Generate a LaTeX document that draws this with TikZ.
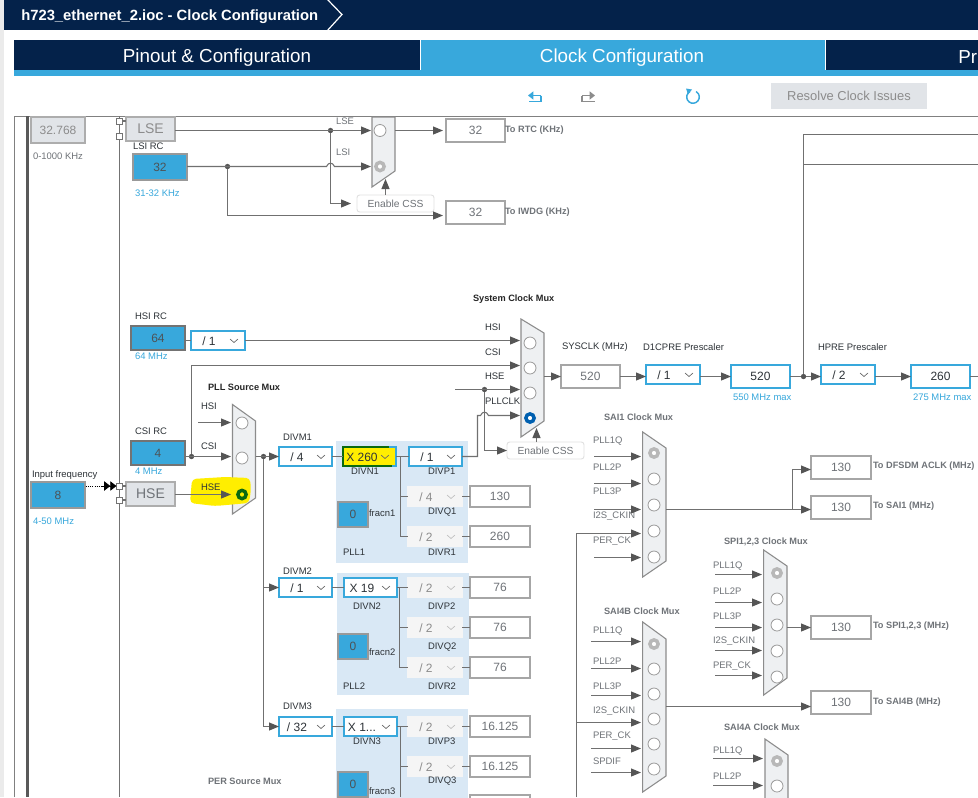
\documentclass[tikz,border=0pt]{standalone}
\usepackage{fontspec}
\setmainfont{Liberation Sans}
\usetikzlibrary{arrows.meta,calc}
\definecolor{navy}{HTML}{04224A}
\definecolor{cubeblue}{HTML}{38A8DC}
\definecolor{conngrey}{HTML}{707070}
\definecolor{headgrey}{HTML}{555555}
\definecolor{boxgrey}{HTML}{E1E4E8}
\definecolor{panel}{HTML}{D9E8F5}
\definecolor{muxfill}{HTML}{EEF0F2}
\definecolor{txtdark}{HTML}{2E3338}
\definecolor{txtgrey}{HTML}{6F7378}
\definecolor{hl}{HTML}{FFEE00}
\definecolor{hlgreen}{HTML}{0B6A10}
\definecolor{selblue}{HTML}{0060B0}
\tikzset{
  conn/.style={draw=conngrey,line width=0.8pt},
  arw/.style={conn,-{Triangle[length=7.5pt,width=6pt,fill=headgrey,color=headgrey]}},
  bxbase/.style={rectangle,inner sep=0pt,outer sep=0pt},
  outb/.style={bxbase,fill=white,draw=black!35,line width=0.8pt,text=txtgrey,font=\fontsize{9}{9}\selectfont},
  actb/.style={bxbase,fill=white,draw=cubeblue,line width=1.6pt,text=txtdark,font=\fontsize{9}{9}\selectfont},
  inb/.style={bxbase,fill=cubeblue,draw=black!40,line width=0.8pt,text=txtdark!85,font=\fontsize{9}{9}\selectfont},
  inbd/.style={inb,draw=black!55},
  grb/.style={bxbase,fill=boxgrey,draw=black!32,line width=0.8pt,text=txtgrey,font=\fontsize{9}{9}\selectfont},
  ddon/.style={bxbase,fill=white,draw=cubeblue,line width=1.7pt},
  ddoff/.style={bxbase,fill=black!4,draw=black!4,line width=0.8pt},
  csse/.style={bxbase,rounded corners=2pt,fill=white,draw=black!12,line width=0.7pt,text=txtgrey,font=\fontsize{7.7}{8}\selectfont},
  panelst/.style={bxbase,fill=panel},
  lbl/.style={anchor=west,inner sep=0pt,outer sep=0pt,text=txtdark,font=\fontsize{7.1}{8}\selectfont},
  lgrey/.style={lbl,text=txtgrey},
  lblue/.style={lbl,text=cubeblue},
  lbold/.style={lbl,font=\fontsize{6.9}{8}\bfseries\selectfont,text=black!85},
  lboldg/.style={lbold,text=txtgrey},
  ltarget/.style={lbold,text=txtgrey},
  muxst/.style={fill=muxfill,draw=black!45,line width=0.8pt},
  circ/.style={circle,inner sep=0pt,outer sep=0pt,minimum size=9pt,fill=white,draw=black!40,line width=0.6pt},
  csel/.style={circle,inner sep=0pt,outer sep=0pt,minimum size=6.2pt,fill=white,draw=black!28,line width=2.6pt},
  cblue/.style={csel,draw=selblue},
  cgreen/.style={csel,draw=hlgreen,fill=hl},
  jdot/.style={circle,inner sep=0pt,outer sep=0pt,minimum size=4pt,fill=headgrey},
  sq/.style={rectangle,inner sep=0pt,outer sep=0pt,minimum size=4.6pt,fill=white,draw=black!55,line width=0.6pt},
  chev/.style={draw=black!60,line width=0.5pt},
  chevoff/.style={draw=black!25,line width=0.5pt},
  ddtxt/.style={inner sep=0pt,outer sep=0pt,text=txtdark,font=\fontsize{9}{9}\selectfont},
  ddtxtoff/.style={ddtxt,text=black!45},
}
\newcommand{\bx}[7][]{\node[#2,minimum width={(#5-#3)*0.75pt},minimum height={(#6-#4)*0.75pt},#1] (#7) at ({(#3+#5)/2},{(#4+#6)/2}) {};}
\newcommand{\tbx}[7]{\node[#1,minimum width={(#4-#2)*0.75pt},minimum height={(#5-#3)*0.75pt}] (#6) at ({(#2+#4)/2},{(#3+#5)/2}) {#7};}
\newcount\lbcount
\newcommand{\lb}[4]{\global\advance\lbcount by 1 \node[#1] (lb\the\lbcount) at (#2,#3) {#4};}
\newcommand{\ddn}[7]{%
  \bx{ddon}{#2}{#3}{#4}{#5}{#1}
  \node[ddtxt] (#1t) at ($(#1.west)+(18,0.7)$) {#6};
  \draw[chev] ($(#1.east)+(-15,-1.5)$) -- ++(4,3.5) -- ++(4,-3.5);}
\newcommand{\ddf}[6]{%
  \bx{ddoff}{#2}{#3}{#4}{#5}{#1}
  \node[ddtxtoff] (#1t) at ($(#1.west)+(18,0.7)$) {#6};
  \draw[chevoff] ($(#1.east)+(-15,-1.5)$) -- ++(4,3.5) -- ++(4,-3.5);}
\newcommand{\inpt}[4]{\coordinate (#1s) at (#2,#4); \coordinate (#1e) at (#3,#4); \draw[arw] (#1s) -- (#1e);}
\begin{document}
\begin{tikzpicture}[x=0.75pt,y=-0.75pt]
\useasboundingbox (0,0) rectangle (978,797);
\clip (0,0) rectangle (978,797);
\fill[white] (0,0) rectangle (978,797);
% chrome
\fill[black!8] (0,0) rectangle (4,797);
\fill[navy] (4,0) rectangle (978,30);
\draw[white,line width=0.9pt] (327,-1) -- (342,14.5) -- (327,31);
\node[anchor=west,inner sep=0pt,text=white,font=\fontsize{11.1}{12}\bfseries\selectfont] (title) at (21,16.5) {h723\_ethernet\_2.ioc - Clock Configuration};
\fill[navy] (14,40) rectangle (420,70);
\fill[cubeblue] (14,70) rectangle (978,76);
\fill[cubeblue] (421,40) rectangle (825,76);
\fill[navy] (826,40) rectangle (978,70);
\node[text=white,inner sep=0pt,font=\fontsize{14.1}{14}\selectfont] (tab1) at (217,57.5) {Pinout \& Configuration};
\node[text=white,inner sep=0pt,font=\fontsize{14.1}{14}\selectfont] (tab2) at (622,57.5) {Clock Configuration};
\node[anchor=west,text=white,inner sep=0pt,font=\fontsize{14.1}{14}\selectfont] (tab3) at (958,57.5) {Pr};
% toolbar
\draw[cubeblue,line width=1pt,-{Triangle[length=4pt,width=6pt]}] (541,95.5) -- (528,95.5);
\draw[cubeblue,line width=1pt] (541,95.5) -- (541,101.5) -- (529,101.5);
\draw[black!45,line width=1pt,-{Triangle[length=4pt,width=6pt]}] (582,95.5) -- (595,95.5);
\draw[black!45,line width=1pt] (582,95.5) -- (582,101.5) -- (595,101.5);
\draw[cubeblue,line width=1.1pt] (689.85,91.5) arc[start angle=-120,end angle=-420,radius=6.3];
\fill[cubeblue] (686,88.5) -- (692,89.5) -- (688,94.5) -- cycle;
\tbx{bxbase,fill=boxgrey,text=black!45,font=\fontsize{9.7}{9}\selectfont}{771}{83}{927}{109}{resolve}{Resolve Clock Issues}
% frame
\draw[black!50,line width=0.7pt] (14.5,797) -- (14.5,116.5) -- (978,116.5);
\draw[black!65,line width=2pt] (27.5,116) -- (27.5,797);
\draw[black!55,line width=0.7pt] (119.5,116) -- (119.5,797);
% PLL panels
\bx{panelst}{336}{441}{468}{563}{pll1p}
\bx{panelst}{337}{573}{469}{695}{pll2p}
\bx{panelst}{336}{709}{468}{800}{pll3p}
% left boxes
\tbx{grb,text=black!45}{31}{117}{85}{143}{xlse}{32.768}
\lb{lgrey}{33}{156}{0-1000 KHz}
\node[sq] (s1) at (119.5,121) {}; \node[sq] (s2) at (119.5,136) {};
\tbx{grb,text=black!45,font=\fontsize{10.5}{10}\selectfont}{126}{117}{175}{141}{lse}{LSE}
\draw[conn] (s1.east) -- (s1.east -| lse.west);
\lb{lbl}{133}{146}{LSI RC}
\tbx{inb}{133}{154}{187}{180}{lsi}{32}
\lb{lblue}{135}{193}{31-32 KHz}
\lb{lbl}{135}{316}{HSI RC}
\tbx{inbd}{131}{326}{185}{350}{hsi}{64}
\lb{lblue}{135}{356}{64 MHz}
\lb{lbl}{135}{431}{CSI RC}
\tbx{inbd}{131}{441}{185}{465}{csi}{4}
\lb{lblue}{135}{471}{4 MHz}
\lb{lbl}{32}{475}{Input frequency}
\tbx{inb}{31}{482}{85}{508}{hsein}{8}
\lb{lblue}{33}{521}{4-50 MHz}
\node[sq] (s3) at (119.5,486) {}; \node[sq] (s4) at (119.5,500) {};
\tbx{grb,font=\fontsize{10.5}{10}\selectfont}{126}{482}{175}{506}{hse}{HSE}
\draw[conn] (s3.east) -- (s3.east -| hse.west);
\draw[conn] (s4.east) -- (s4.east -| hse.west);
\coordinate (xa) at (86,486);
\coordinate (xb) at (102,486);
\draw[black,line width=0.6pt,densely dotted] (xa) -- (xb);
\draw[black,line width=0.6pt,-{Triangle[length=4.6pt,width=7pt]Triangle[length=4.6pt,width=7pt]}] (xb) -- (s3.west);
% LSE / LSI mux
\draw[muxst] (372,117) -- (395,117) -- (395,171) -- (372,187) -- cycle;
\node[circ] (m0c1) at (380,130.5) {};
\node[csel] (m0c2) at (380,166.5) {};
\coordinate (m0i1) at (371,130.5); \coordinate (m0i2) at (371,166.5); \coordinate (m0o) at (395,130.5);
\node[jdot] (jlse) at (330.5,130.5) {};
\node[jdot] (jlsi) at (227.5,166.5) {};
\draw[arw] (lse.east |- jlse) -- (m0i1);
\draw[arw] (lsi.east |- jlsi) -- (326.5,166.5) .. controls (328.5,162) and (332.5,162) .. (334.5,166.5) -- (m0i2);
\lb{lgrey}{336}{121}{LSE}
\lb{lgrey}{336}{152}{LSI}
\tbx{csse}{357}{195}{434}{212}{css0}{Enable CSS}
\coordinate (css0a) at (351,203.5);
\draw[arw] (jlse) |- (css0a);
\draw[arw] (css0.north -| 385.5,0) -- (385.5,179);
\tbx{outb}{446}{119}{505}{142}{rtc}{32}
\tbx{outb}{446}{201}{505}{224}{iwdg}{32}
\draw[arw] (m0o) -- (443,130.5);
\draw[arw] (jlsi) |- (443,215.5);
\lb{ltarget}{505}{130}{To RTC (KHz)}
\lb{ltarget}{505}{212}{To IWDG (KHz)}
% HSI / CSI / HSE to muxes
\ddn{dhsi}{191}{331}{245}{350}{/ 1}{}
\draw[conn] (hsi.east |- dhsi) -- (dhsi.west);
\coordinate (si1) at (520,340.5); \coordinate (si2) at (520,365.5); \coordinate (si3) at (520,389.5); \coordinate (si4) at (520,415.5);
\draw[arw] (dhsi.east) -- (si1);
\node[jdot] (jcsi) at (191.5,456.5) {};
\draw[arw] (jcsi) |- (si2);
\draw[muxst] (232.5,404.5) -- (255.5,421) -- (255.5,498) -- (232.5,514) -- cycle;
\draw[arw] (csi.east |- jcsi) -- (231,456.5);
\coordinate (hs0) at (198,422.5); \coordinate (hs1) at (231,422.5);
\draw[arw] (hs0) -- (hs1);
\fill[hl,rounded corners=3pt] (192,479) -- (225,477) -- (250,478) -- (251,490) -- (249,503) -- (215,506) -- (190,503) -- cycle;
\draw[arw] (hse.east |- 0,494.5) -- (231,494.5);
\node[circ] (pc1) at (242,423) {};
\node[circ] (pc2) at (242,458) {};
\node[cgreen] (pc3) at (242,494.5) {};
\lb{lbl}{201}{406}{HSI}
\lb{lbl}{201}{446}{CSI}
\lb{lbl}{201}{487}{HSE}
\lb{lbold}{208}{387}{PLL Source Mux}
% DIVM
\lb{lbl}{283}{437}{DIVM1}
\lb{lbl}{283}{571}{DIVM2}
\lb{lbl}{283}{706}{DIVM3}
\ddn{dm1}{279}{447}{332}{466}{/ 4}{}
\ddn{dm2}{279}{578}{332}{597}{/ 1}{}
\ddn{dm3}{279}{717}{332}{736}{/ 32}{}
\node[jdot] (jm) at (263.5,456.5) {};
\draw[arw] (255.5,456.5) -- (dm1.west);
\draw[arw] (jm) |- (dm2.west);
\draw[arw] (jm) |- (dm3.west);
% PLL1
\bx{bxbase,fill=hl,draw=hlgreen,line width=1.3pt}{343}{447}{396}{466}{dn1}
\node[ddtxt] (dn1t) at (362,457) {X 260};
\draw[chev] (381,455) -- ++(4,3.5) -- ++(4,-3.5);
\draw[cubeblue,line width=1.6pt] (389,447) -- (396,447) -- (396,466) -- (392,466);
\lb{lbl}{351}{471.5}{DIVN1}
\ddn{dp1}{409}{447}{462}{466}{/ 1}{}
\lb{lbl}{428}{471.5}{DIVP1}
\ddf{dq1}{408}{487}{462}{506}{/ 4}
\lb{lbl}{428}{512}{DIVQ1}
\ddf{dr1}{408}{527}{462}{546}{/ 2}
\lb{lbl}{428}{552}{DIVR1}
\tbx{outb}{470}{486}{530}{507}{oq1}{130}
\tbx{outb}{470}{526}{530}{547}{or1}{260}
\draw[conn] (dm1.east) -- (dn1.west);
\draw[conn] (dn1.east) -- (dp1.west);
\coordinate (v1) at (400.5,456.5);
\draw[conn] (v1) |- (dq1.west);
\draw[conn] (v1) |- (dr1.west);
\draw[conn] (dq1.east) -- (dq1.east -| oq1.west);
\draw[conn] (dr1.east) -- (dr1.east -| or1.west);
\tbx{inb}{338}{502}{368}{527}{fr1}{0}
\lb{lbl}{369}{513}{fracn1}
\lb{lbl}{343}{552}{PLL1}
% PLL2
\ddn{dn2}{344}{578}{397}{597}{X 19}{}
\lb{lbl}{353}{606}{DIVN2}
\ddf{dp2}{408}{578}{462}{597}{/ 2}
\ddf{dq2}{408}{618}{462}{637}{/ 2}
\ddf{dr2}{408}{658}{462}{677}{/ 2}
\lb{lbl}{428}{606}{DIVP2}
\lb{lbl}{428}{647}{DIVQ2}
\lb{lbl}{428}{686.5}{DIVR2}
\tbx{outb}{470}{577}{530}{598}{op2}{76}
\tbx{outb}{470}{617}{530}{638}{oq2}{76}
\tbx{outb}{470}{657}{530}{678}{or2}{76}
\draw[conn] (dm2.east) -- (dn2.west);
\draw[conn] (dn2.east) -- (dp2.west);
\coordinate (v2) at (399.5,587.5);
\draw[conn] (v2) |- (dq2.west);
\draw[conn] (v2) |- (dr2.west);
\draw[conn] (dp2.east) -- (dp2.east -| op2.west);
\draw[conn] (dq2.east) -- (dq2.east -| oq2.west);
\draw[conn] (dr2.east) -- (dr2.east -| or2.west);
\tbx{inb}{338}{634}{368}{659}{fr2}{0}
\lb{lbl}{369}{652}{fracn2}
\lb{lbl}{343}{686}{PLL2}
% PLL3
\ddn{dn3}{344}{717}{397}{736}{X 1...}{}
\lb{lbl}{353}{741}{DIVN3}
\ddf{dp3}{408}{717}{462}{736}{/ 2}
\ddf{dq3}{408}{757}{462}{776}{/ 2}
\lb{lbl}{428}{741}{DIVP3}
\lb{lbl}{428}{781}{DIVQ3}
\tbx{outb}{470}{716}{530}{737}{op3}{16.125}
\tbx{outb}{470}{756}{530}{777}{oq3}{16.125}
\bx{outb}{470}{795}{530}{818}{or3}
\draw[conn] (dm3.east) -- (dn3.west);
\draw[conn] (dn3.east) -- (dp3.west);
\coordinate (v3) at (400.5,726.5);
\draw[conn] (v3) |- (dq3.west);
\draw[conn] (v3) -- (400.5,797);
\draw[conn] (dp3.east) -- (dp3.east -| op3.west);
\draw[conn] (dq3.east) -- (dq3.east -| oq3.west);
\tbx{inb}{338}{772}{368}{797}{fr3}{0}
\lb{lbl}{369}{791}{fracn3}
\lb{lboldg}{208}{781}{PER Source Mux}
% system mux
\lb{lbold}{473}{299}{System Clock Mux}
\draw[muxst] (521,319) -- (544,333) -- (544,421) -- (521,437) -- cycle;
\node[circ] (sc1) at (530,343) {};
\node[circ] (sc2) at (530,368) {};
\node[circ] (sc3) at (530,393) {};
\node[cblue] (sc4) at (530,418) {};
\lb{lbl}{485}{327}{HSI}
\lb{lbl}{485}{352}{CSI}
\lb{lbl}{485}{376}{HSE}
\lb{lbl}{485}{401}{PLLCLK}
\coordinate (hs3) at (455,389.5);
\node[jdot] (jhs) at (484.5,389.5) {};
\draw[arw] (hs3) -- (si3);
\tbx{csse}{507}{442}{584}{459}{css1}{Enable CSS}
\draw[arw] (jhs) |- (css1.west);
\draw[arw] (dp1.east) -- (477.5,456.5) -- (477.5,415.5) -- (480.5,415.5) .. controls (482.5,411) and (486.5,411) .. (488.5,415.5) -- (si4);
\draw[arw] (css1.north -| 536.5,0) -- (536.5,428);
% sysclk chain
\tbx{outb}{561}{365}{620}{388}{sys}{520}
\lb{lbl}{562}{347}{SYSCLK (MHz)}
\draw[arw] (544,376.5) -- (sys.west);
\ddn{d1c}{646}{365}{700}{384}{/ 1}{}
\lb{lbl}{643}{347}{D1CPRE Prescaler}
\draw[arw] (sys.east) -- (sys.east -| d1c.west);
\tbx{actb}{731}{365}{790}{388}{cpu}{520}
\lb{lblue}{733}{397}{550 MHz max}
\draw[arw] (cpu.west -| d1c.east) -- (cpu.west);
\node[jdot] (jcpu) at (803.5,376.5) {};
\ddn{hpre}{821}{365}{875}{384}{/ 2}{}
\lb{lbl}{818}{347}{HPRE Prescaler}
\draw[conn] (cpu.east) -- (jcpu);
\draw[arw] (jcpu) -- (jcpu -| hpre.west);
\tbx{actb}{911}{365}{970}{388}{hclk}{260}
\lb{lblue}{913}{397}{275 MHz max}
\draw[arw] (hclk.west -| hpre.east) -- (hclk.west);
\coordinate (rr) at (978,376.5);
\draw[conn] (hclk.east) -- (rr);
\coordinate (rt1) at (978,134.5); \coordinate (rt2) at (978,164.5);
\draw[conn] (jcpu) |- (rt1);
\draw[conn] (803.5,164.5) -- (rt2);
% SAI1 mux
\lb{lboldg}{604}{417}{SAI1 Clock Mux}
\draw[muxst] (642.7,432) -- (666,448) -- (666,561) -- (642.7,577) -- cycle;
\node[csel] (a1) at (654,453) {};
\foreach \y [count=\i] in {479,505,531,557} {\node[circ] (a2\i) at (654,\y) {};}
\lb{lgrey}{593}{441.5}{PLL1Q}
\lb{lgrey}{593}{467}{PLL2P}
\lb{lgrey}{593}{491}{PLL3P}
\lb{lgrey}{593}{516}{I2S\_CKIN}
\lb{lgrey}{593}{541.5}{PER\_CK}
\inpt{ai1}{594}{641}{456.5}
\inpt{ai2}{594}{641}{483.5}
\inpt{ai3}{594}{641}{509.5}
\inpt{ai5}{594}{641}{557.5}
\coordinate (bus) at (576.5,797);
\coordinate (ai4) at (641,533.5);
\draw[arw] (bus) |- (ai4);
\tbx{outb}{811}{456}{871}{479}{odf}{130}
\tbx{outb}{811}{496}{871}{519}{osai1}{130}
\coordinate (am) at (666,509.5);
\coordinate (jam) at (792.5,509.5);
\draw[arw] (am) -- (am -| osai1.west);
\draw[arw] (jam) |- ($(odf.west)+(0,2)$);
\lb{ltarget}{873}{466.5}{To DFSDM ACLK (MHz)}
\lb{ltarget}{873}{506}{To SAI1 (MHz)}
% SPI mux
\lb{lboldg}{724}{541.5}{SPI1,2,3 Clock Mux}
\draw[muxst] (763.7,550) -- (787,566) -- (787,678) -- (763.7,695) -- cycle;
\node[csel] (b1) at (777,573) {};
\foreach \y [count=\i] in {599,625,651,677} {\node[circ] (b2\i) at (777,\y) {};}
\lb{lgrey}{713}{566}{PLL1Q}
\lb{lgrey}{713}{591.5}{PLL2P}
\lb{lgrey}{713}{616.5}{PLL3P}
\lb{lgrey}{713}{641.5}{I2S\_CKIN}
\lb{lgrey}{713}{666.5}{PER\_CK}
\inpt{bi1}{715}{762}{574.5}
\inpt{bi2}{715}{762}{602.5}
\inpt{bi3}{715}{762}{627.5}
\inpt{bi4}{715}{762}{650.5}
\inpt{bi5}{715}{762}{675.5}
\tbx{outb}{811}{616}{871}{639}{ospi}{130}
\coordinate (bm) at (787,627.5);
\draw[arw] (bm) -- (ospi.west);
\lb{ltarget}{873}{626.5}{To SPI1,2,3 (MHz)}
% SAI4B mux
\lb{lboldg}{604}{611}{SAI4B Clock Mux}
\draw[muxst] (642.7,622) -- (666,639) -- (666,776) -- (642.7,792) -- cycle;
\node[csel] (c1) at (654,644) {};
\foreach \y [count=\i] in {669,694,719,744,769} {\node[circ] (c2\i) at (654,\y) {};}
\lb{lgrey}{593}{631}{PLL1Q}
\lb{lgrey}{593}{661}{PLL2P}
\lb{lgrey}{593}{686}{PLL3P}
\lb{lgrey}{593}{711}{I2S\_CKIN}
\lb{lgrey}{593}{736}{PER\_CK}
\lb{lgrey}{593}{761}{SPDIF}
\inpt{ci1}{591}{641}{641.5}
\inpt{ci2}{591}{641}{668.5}
\inpt{ci3}{591}{641}{695.5}
\inpt{ci5}{591}{641}{748.5}
\inpt{ci6}{591}{641}{772.5}
\coordinate (ci4) at (641,722.5);
\draw[arw] (bus) |- (ci4);
\tbx{outb}{811}{691}{871}{714}{osai4}{130}
\coordinate (cm) at (666,706.5);
\draw[arw] (cm) -- (cm -| osai4.west);
\lb{ltarget}{873}{702}{To SAI4B (MHz)}
% SAI4A mux
\lb{lboldg}{724}{727}{SAI4A Clock Mux}
\draw[muxst] (765,739) -- (788,755) -- (788,810) -- (765,810) -- cycle;
\node[csel] (d1) at (777,761) {};
\node[circ] (d2) at (777,786) {};
\lb{lgrey}{713}{751}{PLL1Q}
\lb{lgrey}{713}{776}{PLL2P}
\inpt{di1}{713}{763}{758.5}
\inpt{di2}{713}{763}{785.5}
\end{tikzpicture}
\end{document}
